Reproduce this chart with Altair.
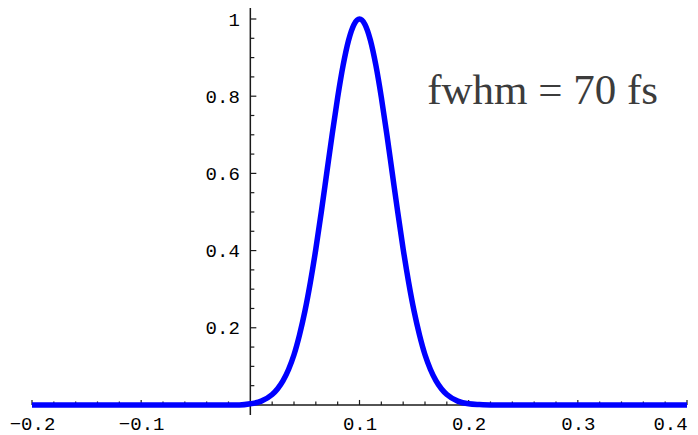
import altair as alt
import pandas as pd

# ---- data ----
curve_x = [-0.2, -0.1, -0.02, -0.01, 0.0, 0.01, 0.02, 0.025, 0.03, 0.035, 0.04, 0.045,
           0.05, 0.055, 0.06, 0.065, 0.07, 0.075, 0.08, 0.085, 0.09, 0.095, 0.1,
           0.105, 0.11, 0.115, 0.12, 0.125, 0.13, 0.135, 0.14, 0.145, 0.15, 0.155,
           0.16, 0.165, 0.17, 0.175, 0.18, 0.19, 0.2, 0.21, 0.22, 0.3, 0.4]
curve_y = [0.0, 0.0, 0.0, 0.0, 0.003, 0.010, 0.027, 0.042, 0.063, 0.092, 0.130, 0.181,
           0.243, 0.318, 0.404, 0.500, 0.601, 0.702, 0.797, 0.880, 0.945, 0.986, 1.0,
           0.986, 0.945, 0.880, 0.797, 0.702, 0.601, 0.500, 0.404, 0.318, 0.243, 0.181,
           0.130, 0.092, 0.063, 0.042, 0.027, 0.010, 0.003, 0.001, 0.0, 0.0, 0.0]

x_major = [-0.2, -0.1, 0.1, 0.2, 0.3, 0.4]
x_minor = [-0.18, -0.16, -0.14, -0.12, -0.08, -0.06, -0.04, -0.02,
           0.02, 0.04, 0.06, 0.08, 0.12, 0.14, 0.16, 0.18,
           0.22, 0.24, 0.26, 0.28, 0.32, 0.34, 0.36, 0.38]
y_major = [0.2, 0.4, 0.6, 0.8, 1.0]
y_minor = [0.05, 0.1, 0.15, 0.25, 0.3, 0.35, 0.45, 0.5, 0.55,
           0.65, 0.7, 0.75, 0.85, 0.9, 0.95]

annotation = "fwhm = 70 fs"

# ---- layout ----
W, H = 655, 407
X_DOM = [-0.2, 0.4]
Y_DOM = [-0.026, 1.0285]
y_axis_offset = -(0 - X_DOM[0]) / (X_DOM[1] - X_DOM[0]) * W

xs = alt.Scale(domain=X_DOM, nice=False, zero=False)
ys = alt.Scale(domain=Y_DOM, nice=False, zero=False)

curve_df = pd.DataFrame({"x": curve_x, "y": curve_y})
AX = "#1a1a1a"
MONO = "Liberation Mono"
LFS = 19

x_axis = alt.Axis(values=x_major, domain=False, ticks=False, grid=False, tickSize=0,
                  labelFont=MONO, labelFontSize=LFS, labelColor="black",
                  labelPadding=14, labelBaseline="alphabetic", labelFlush=False,
                  labelOverlap=False, format=".1f", title=None,
                  labelOffset={"expr": "datum.value > 0.39 ? -17 : 0"})
y_axis = alt.Axis(values=y_major, domain=False, ticks=False, grid=False, tickSize=0,
                  labelFont=MONO, labelFontSize=LFS, labelColor="black",
                  labelPadding=11, labelFlush=False, labelOverlap=False,
                  offset=y_axis_offset, title=None,
                  labelExpr="datum.value == 1 ? '1' : format(datum.value, '.1f')")

# axis lines
x_line = alt.Chart(pd.DataFrame({"a": [X_DOM[0]], "b": [X_DOM[1]]})).mark_rule(
    color=AX, strokeWidth=1.5).encode(
    x=alt.X("a:Q", scale=xs, axis=x_axis), x2="b:Q",
    y=alt.datum(0, scale=ys, axis=y_axis))
y_line = alt.Chart(pd.DataFrame({"a": [Y_DOM[0]], "b": [Y_DOM[1]]})).mark_rule(
    color=AX, strokeWidth=1.5).encode(
    x=alt.datum(0), y="a:Q", y2="b:Q")

# ticks
def xticks(vals, length):
    return alt.Chart(pd.DataFrame({"v": vals})).mark_rule(
        color=AX, strokeWidth=1.2, y2Offset=-length).encode(
        x="v:Q", y=alt.datum(0), y2=alt.datum(0))

def yticks(vals, length):
    return alt.Chart(pd.DataFrame({"v": vals})).mark_rule(
        color=AX, strokeWidth=1.2, x2Offset=length).encode(
        y="v:Q", x=alt.datum(0), x2=alt.datum(0))

curve = alt.Chart(curve_df).mark_line(color="#0000ff", strokeWidth=5.5,
                                      interpolate="monotone").encode(
    x="x:Q", y="y:Q")

label = alt.Chart(pd.DataFrame({"t": [annotation], "x": [0.162], "y": [0.78]})).mark_text(
    font="Liberation Serif", fontSize=43, color="#3c3c3c", align="left",
    baseline="alphabetic").encode(x="x:Q", y="y:Q", text="t:N")

chart = alt.layer(
    x_line, y_line,
    xticks(x_major, 5), xticks(x_minor, 3.5),
    yticks(y_major, 6), yticks(y_minor, 4),
    curve, label
).properties(
    width=W, height=H,
    autosize=alt.AutoSizeParams(type="none"),
    padding={"left": 24, "top": 0, "right": 3, "bottom": 20},
    background="white",
).configure_view(stroke=None)

chart.save("out.html", embed_options={"renderer": "svg", "actions": False})
